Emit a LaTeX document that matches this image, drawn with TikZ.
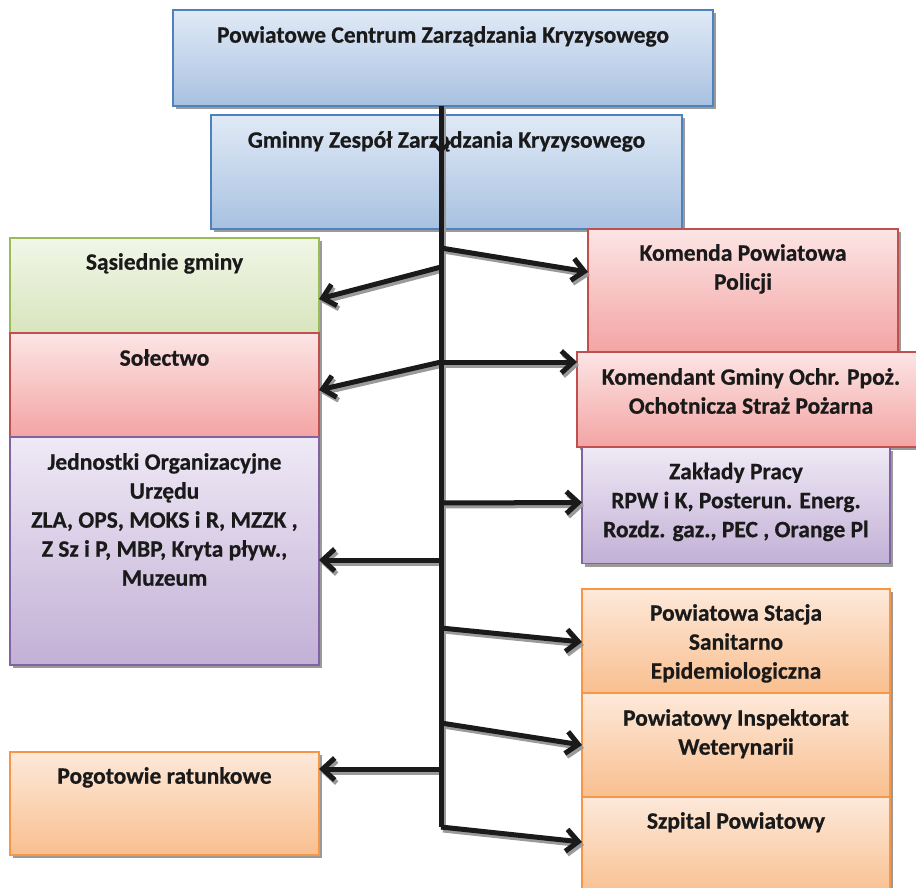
\documentclass[tikz,border=0pt]{standalone}
\usepackage{fontspec}
\setmainfont{Carlito}[BoldFeatures={FakeBold=0.6}]
\usetikzlibrary{arrows.meta,calc,shadows}
\definecolor{bluebd}{HTML}{4F81BD}
\definecolor{bluetop}{HTML}{E1EAF6}
\definecolor{bluebot}{HTML}{A8C1E1}
\definecolor{greenbd}{HTML}{9BBB59}
\definecolor{greentop}{HTML}{F1F6E7}
\definecolor{greenbot}{HTML}{D8E5BE}
\definecolor{redbd}{HTML}{C0504D}
\definecolor{redtop}{HTML}{FCE5E5}
\definecolor{redbot}{HTML}{F3A4A3}
\definecolor{purpbd}{HTML}{8064A2}
\definecolor{purptop}{HTML}{EFE9F5}
\definecolor{purpbot}{HTML}{C2B0D6}
\definecolor{orbd}{HTML}{F79646}
\definecolor{ortop}{HTML}{FDE9DA}
\definecolor{orbot}{HTML}{F9BF8F}
\definecolor{shadowgray}{HTML}{9A9A9A}
\definecolor{ink}{HTML}{1A1A1A}
\begin{document}
\begin{tikzpicture}[x=1pt,y=-1pt,
  box/.style={rectangle, line width=1.3pt, inner sep=0pt, outer sep=0pt,
    drop shadow={shadow xshift=2.5pt, shadow yshift=-3pt, fill=shadowgray, opacity=1}},
  bluebox/.style={box, draw=bluebd, top color=bluetop, bottom color=bluebot},
  greenbox/.style={box, draw=greenbd, top color=greentop, bottom color=greenbot},
  redbox/.style={box, draw=redbd, top color=redtop, bottom color=redbot},
  purpbox/.style={box, draw=purpbd, top color=purptop, bottom color=purpbot},
  orbox/.style={box, draw=orbd, top color=ortop, bottom color=orbot},
  lbl/.style={anchor=north, inner sep=0pt, align=center, text=ink,
    font=\fontsize{23.5}{29}\selectfont\bfseries},
  connshadow/.style={line width=5pt, draw=shadowgray},
  conn/.style={line width=5pt, draw=ink},
  arr/.style={conn, -{Straight Barb[length=12pt,width=22pt]}},
  arrsh/.style={connshadow, -{Straight Barb[length=12pt,width=22pt]}},
]
\clip (0,0) rectangle (916,887);
\fill[white] (0,0) rectangle (916,887);

% top boxes
\node[bluebox, minimum width=540pt, minimum height=96pt] (pczk) at (443,58) {};
\node[bluebox, minimum width=471pt, minimum height=114pt] (gzzk) at (446.5,172) {};
% left column
\node[greenbox, minimum width=309pt, minimum height=95pt] (sas) at (164.5,285.5) {};
\node[redbox, minimum width=309pt, minimum height=104pt] (sol) at (164.5,385) {};
\node[purpbox, minimum width=309pt, minimum height=228pt] (jed) at (164.5,551) {};
\node[orbox, minimum width=309pt, minimum height=103pt] (pog) at (164.5,803.5) {};
% right column
\node[redbox, minimum width=310pt, minimum height=123pt] (kpp) at (743,290.5) {};
\node[redbox, minimum width=345pt, minimum height=95pt] (kgop) at (749.5,399.5) {};
\node[purpbox, minimum width=308pt, minimum height=116pt] (zp) at (736,505.5) {};
\node[orbox, minimum width=308pt, minimum height=104pt] (psse) at (736,641) {};
\node[orbox, minimum width=308pt, minimum height=104pt] (piw) at (736,745) {};
\node[orbox, minimum width=308pt, minimum height=100pt] (szp) at (736,847) {};

% labels
\node[lbl] (pczk-t) at ($(pczk.north)+(0,16)$) {Powiatowe Centrum Zarządzania Kryzysowego};
\node[lbl] (gzzk-t) at ($(gzzk.north)+(0,16)$) {Gminny Zespół Zarządzania Kryzysowego};
\node[lbl] (sas-t) at ($(sas.north)+(0,15)$) {Sąsiednie gminy};
\node[lbl] (sol-t) at ($(sol.north)+(0,16)$) {Sołectwo};
\node[lbl] (jed-t) at ($(jed.north)+(0,16)$) {Jednostki Organizacyjne\\Urzędu\\ZLA, OPS, MOKS i R, MZZK ,\\Z Sz i P, MBP, Kryta pływ.,\\Muzeum};
\node[lbl] (pog-t) at ($(pog.north)+(0,15)$) {Pogotowie ratunkowe};
\node[lbl] (kpp-t) at ($(kpp.north)+(0,15)$) {Komenda Powiatowa\\Policji};
\node[lbl] (kgop-t) at ($(kgop.north west)+(174,16)$) {Komendant Gminy Ochr. Ppoż.\\Ochotnicza Straż Pożarna};
\node[lbl] (zp-t) at ($(zp.north)+(0,15)$) {Zakłady Pracy\\RPW i K, Posterun. Energ.\\Rozdz. gaz., PEC , Orange Pl};
\node[lbl] (psse-t) at ($(psse.north)+(0,15)$) {Powiatowa Stacja\\Sanitarno\\Epidemiologiczna};
\node[lbl] (piw-t) at ($(piw.north)+(0,16)$) {Powiatowy Inspektorat\\Weterynarii};
\node[lbl] (szp-t) at ($(szp.north)+(0,15)$) {Szpital Powiatowy};

% trunk
\coordinate (top) at (441,106);
\coordinate (tip) at (441,154);
\coordinate (bot) at (441,827);

% branch points on trunk
\coordinate (bkpp) at (441,248);
\coordinate (bsas) at (441,267);
\coordinate (bsol) at (441,362);
\coordinate (bkgop) at (441,362);
\coordinate (bzp) at (441,503);
\coordinate (bjed) at (441,560);
\coordinate (bpsse) at (441,628);
\coordinate (bpiw) at (441,723);
\coordinate (bpog) at (441,769);
\coordinate (bszp) at (441,827);

% shadows of connectors
\begin{scope}[transform canvas={xshift=2pt, yshift=-3pt}]
\draw[connshadow] (top) -- (bot);
\draw[arrsh] (bsas) -- ($(sas.north east)+(0,61)$);
\draw[arrsh] (bsol) -- ($(sol.north east)+(0,57)$);
\draw[arrsh] (bjed) -- ($(jed.north east)+(0,123)$);
\draw[arrsh] (bpog) -- ($(pog.north east)+(0,17)$);
\draw[arrsh] (bkpp) -- ($(kpp.north west)+(0,43)$);
\draw[arrsh] (bkgop) -- ($(kgop.north west)+(0,10)$);
\draw[arrsh] (bzp) -- ($(zp.north west)+(0,55)$);
\draw[arrsh] (bpsse) -- ($(psse.north west)+(0,53)$);
\draw[arrsh] (bpiw) -- ($(piw.north west)+(0,52)$);
\draw[arrsh] (bszp) -- ($(szp.north west)+(0,45)$);
\end{scope}

% trunk and its small arrow
\draw[conn] (top) -- (bot);
\draw[line width=3.5pt, draw=ink, -{Straight Barb[length=10pt,width=18pt]}] (top) -- (tip);

% arrows left
\draw[arr] (bsas) -- ($(sas.north east)+(0,61)$);
\draw[arr] (bsol) -- ($(sol.north east)+(0,57)$);
\draw[arr] (bjed) -- ($(jed.north east)+(0,123)$);
\draw[arr] (bpog) -- ($(pog.north east)+(0,17)$);
% arrows right
\draw[arr] (bkpp) -- ($(kpp.north west)+(0,43)$);
\draw[arr] (bkgop) -- ($(kgop.north west)+(0,10)$);
\draw[arr] (bzp) -- ($(zp.north west)+(0,55)$);
\draw[arr] (bpsse) -- ($(psse.north west)+(0,53)$);
\draw[arr] (bpiw) -- ($(piw.north west)+(0,52)$);
\draw[arr] (bszp) -- ($(szp.north west)+(0,45)$);
\end{tikzpicture}
\end{document}
